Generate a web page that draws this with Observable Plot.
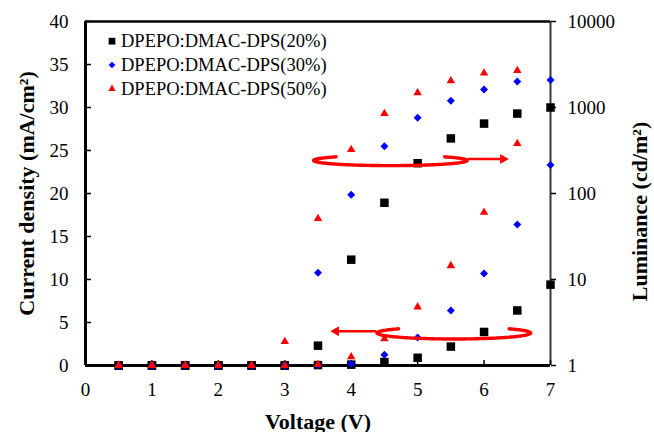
<!DOCTYPE html>
<html>
<head>
<meta charset="utf-8">
<script src="https://cdn.jsdelivr.net/npm/d3@7"></script>
<script src="https://cdn.jsdelivr.net/npm/@observablehq/plot@0.6"></script>
<style>
  html, body { margin: 0; padding: 0; background: #fff; }
  #chart { width: 654px; height: 432px; overflow: hidden; }
  #chart svg, #chart svg text { font-family: "Liberation Serif", "Times New Roman", serif !important; }
</style>
</head>
<body>
<div id="chart"></div>
<script>
// ---- data ----
const voltage = [0.5, 1, 1.5, 2, 2.5, 3, 3.5, 4, 4.5, 5, 5.5, 6, 6.5, 7];
// current density (mA/cm2), left axis
const j20 = [0, 0, 0, 0, 0, 0, 0.05, 0.1, 0.4, 0.9, 2.2, 3.9, 6.4, 9.4];
const j30 = [0, 0, 0, 0, 0, 0, 0.05, 0.2, 1.25, 3.25, 6.4, 10.7, 16.4, 23.3];
const j50 = [0, 0, 0, 0, 0, 0, 0.12, 1.0, 3.1, 6.8, 11.6, 17.8, 25.8, null];
// luminance (cd/m2), right log axis
const l20 = [1, 1, 1, 1, 1, 1, 1.7, 17, 78, 225, 437, 650, 850, 1000];
const l30 = [1, 1, 1, 1, 1, 1, 12, 97, 355, 760, 1200, 1620, 2000, 2090];
const l50 = [1, 1, 1, 1, 1, 1.9, 51, 324, 850, 1480, 2040, 2510, 2690, null];

const seriesNames = ["DPEPO:DMAC-DPS(20%)", "DPEPO:DMAC-DPS(30%)", "DPEPO:DMAC-DPS(50%)"];
const seriesColors = ["#000000", "#0000ff", "#ff0000"];
const seriesSymbols = ["square", "diamond2", "triangle"];

const xTicks = [0, 1, 2, 3, 4, 5, 6, 7];
const yTicks = [0, 5, 10, 15, 20, 25, 30, 35, 40];
const lumTicks = [1, 10, 100, 1000, 10000];

// annotation rings (voltage, current-density units)
const ringCx = [4.59, 5.545];
const ringCy = [23.84, 3.78];
const ringRx = [1.156, 1.157];
const ringRy = [0.60, 0.70];
const ringGap = [[45, 135], [45, 136]];
const arrowX1 = [5.77, 4.366];
const arrowX2 = [6.37, 3.688];
const arrowY = [24.0, 3.99];

// luminance mapped onto the left axis: 4 decades over 0..40
const lum = (v) => 10 * Math.log10(v);

const serif = "'Liberation Serif', 'Times New Roman', serif";
const jSets = [j20, j30, j50];
const lSets = [l20, l30, l50];
const rSizes = [4.8, 3.6, 3.15];
const rLegend = [3.8, 3.0, 2.7];

const marks = [];
// frame lines
marks.push(Plot.ruleX([7], {stroke: "#3a3a3a", strokeWidth: 2}));
marks.push(Plot.ruleY([40], {stroke: "#000", strokeWidth: 2.5}));
marks.push(Plot.ruleX([0], {stroke: "#000", strokeWidth: 3}));
marks.push(Plot.ruleY([0], {stroke: "#000", strokeWidth: 3}));

// axes
marks.push(Plot.axisY({anchor: "left", ticks: yTicks, tickSize: 0, tickPadding: 17, label: null,
  tickFormat: (d) => String(d), fontFamily: serif, fontSize: 19}));
marks.push(Plot.axisY({anchor: "left", ticks: yTicks, tickSize: 6, dx: 6, tickFormat: () => "", label: null, strokeWidth: 1.5}));
marks.push(Plot.axisY({anchor: "right", ticks: lumTicks.map(lum), tickSize: 5, tickPadding: 12, strokeWidth: 1.5,
  tickFormat: (d) => String(Math.round(Math.pow(10, d / 10))), label: null, fontFamily: serif, fontSize: 19}));
marks.push(Plot.axisX({anchor: "bottom", ticks: xTicks, tickSize: 0, tickPadding: 17, label: null,
  tickFormat: (d) => String(d), fontFamily: serif, fontSize: 19}));
marks.push(Plot.axisX({anchor: "bottom", ticks: xTicks, tickSize: 5, dy: -5, tickFormat: () => "", label: null, strokeWidth: 1.5}));

// axis titles
marks.push(Plot.text(["Current density (mA/cm\u00B2)"], {frameAnchor: "left", textAnchor: "middle", dx: -59, rotate: -90,
  fontWeight: "bold", fontSize: 22, fontFamily: serif, text: (d) => d}));
marks.push(Plot.text(["Luminance (cd/m\u00B2)"], {frameAnchor: "right", textAnchor: "middle", dx: 89, dy: 18, rotate: -90,
  fontWeight: "bold", fontSize: 22, fontFamily: serif, text: (d) => d}));
marks.push(Plot.text(["Voltage (V)"], {frameAnchor: "bottom", textAnchor: "middle", dy: 63, lineAnchor: "bottom",
  fontWeight: "bold", fontSize: 22, fontFamily: serif, text: (d) => d}));

// data points
jSets.forEach((js, s) => {
  const rows = voltage.map((v, i) => ({v, j: js[i], l: lSets[s][i]}));
  marks.push(Plot.dot(rows.filter((d) => d.j != null), {x: "v", y: "j", symbol: seriesSymbols[s],
    fill: seriesColors[s], r: rSizes[s]}));
  marks.push(Plot.dot(rows.filter((d) => d.l != null), {x: "v", y: (d) => lum(d.l), symbol: seriesSymbols[s],
    fill: seriesColors[s], r: rSizes[s]}));
});

// rings and arrows
ringCx.forEach((cx, k) => {
  const [g0, g1] = ringGap[k];
  const pts = d3.range(g1, g0 + 360 + 0.5, 2).map((a) => {
    const t = a * Math.PI / 180;
    return {x: cx + ringRx[k] * Math.cos(t), y: ringCy[k] + ringRy[k] * Math.sin(t)};
  });
  marks.push(Plot.line(pts, {x: "x", y: "y", stroke: "#ff0000", strokeWidth: 3.4, curve: "linear"}));
  const dir = arrowX2[k] > arrowX1[k] ? 1 : -1;
  marks.push(Plot.arrow([k], {x1: () => arrowX1[k], x2: () => arrowX2[k], y1: () => arrowY[k], y2: () => arrowY[k],
    stroke: "#ff0000", strokeWidth: 2.5, headLength: 0, insetEnd: 6}));
  marks.push(Plot.dot([k], {x: () => arrowX2[k], y: () => arrowY[k], symbol: "triangle", r: 3.7,
    fill: "#ff0000", rotate: 90 * dir, dx: -5.6 * dir}));
});

// legend
seriesNames.forEach((name, s) => {
  const dy = 19.7 + s * 23.8;
  marks.push(Plot.dot([name], {frameAnchor: "top-left", dx: 26.5, dy, symbol: seriesSymbols[s],
    fill: seriesColors[s], r: rLegend[s]}));
  marks.push(Plot.text([name], {frameAnchor: "top-left", dx: 35.5, dy, text: (d) => d, textAnchor: "start",
    lineAnchor: "middle", fontSize: 18.5, fontFamily: serif, fill: "#000"}));
});

const chart = Plot.plot({
  width: 654,
  height: 432,
  marginLeft: 85,
  marginRight: 104,
  marginTop: 21,
  marginBottom: 67,
  x: {domain: [0, 7]},
  y: {domain: [0, 40]},
  style: {fontFamily: serif, fontSize: "19px", background: "#fff", color: "#000"},
  marks
});
document.getElementById("chart").appendChild(chart);
</script>
</body>
</html>
